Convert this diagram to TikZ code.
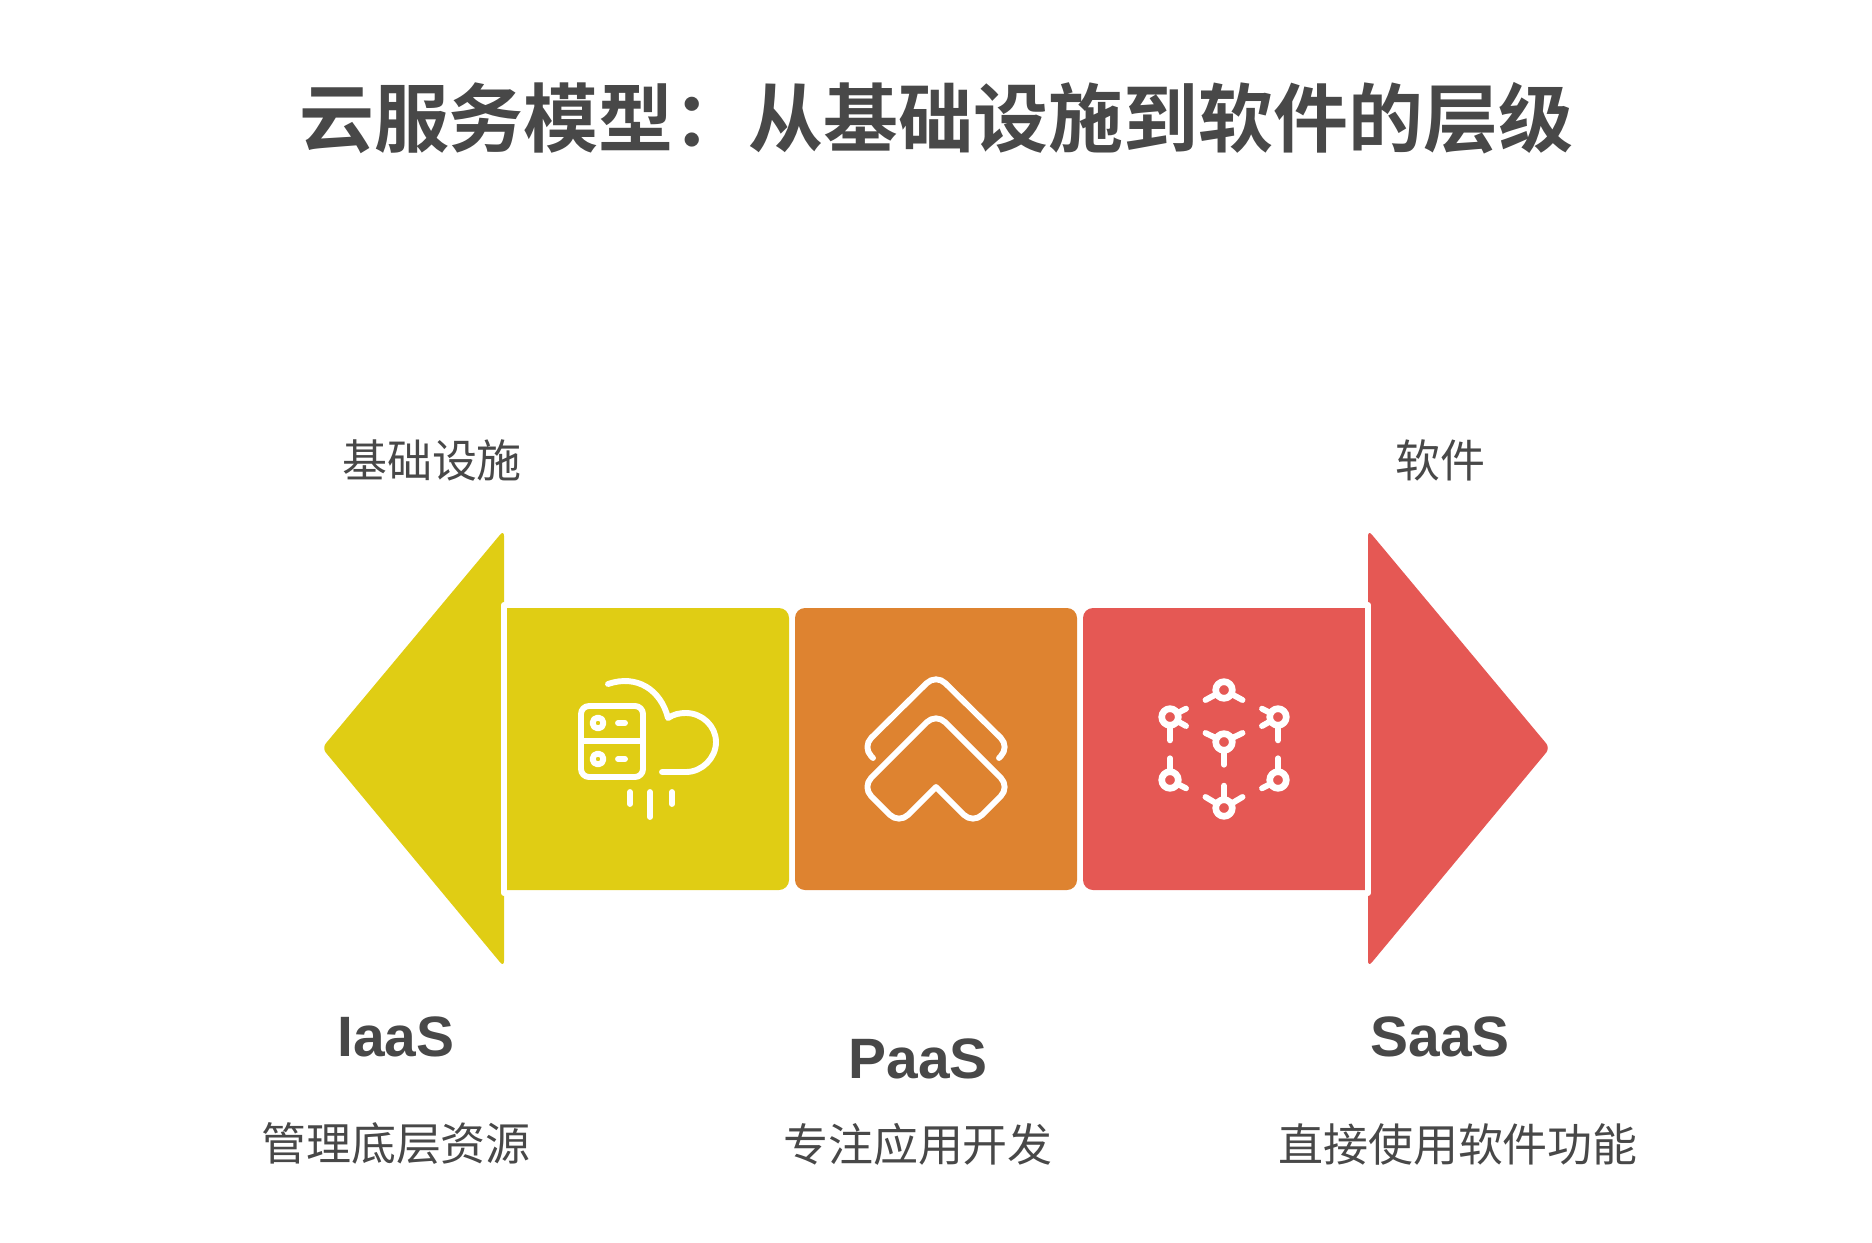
\documentclass[tikz,border=0pt]{standalone}
\usepackage{fontspec}
\usepackage{xcolor}
\setmainfont{Noto Sans CJK SC}[BoldFont={Noto Sans CJK SC Bold}]
\newfontfamily\latinfont{Liberation Sans}
\definecolor{iaasyellow}{HTML}{E0CD14}
\definecolor{paasorange}{HTML}{DE8330}
\definecolor{saasred}{HTML}{E55854}
\definecolor{textgray}{HTML}{484848}
\tikzset{
    titletext/.style={text=textgray, font=\fontsize{42.65}{50}\selectfont\bfseries, inner sep=0pt},
    bodytext/.style={text=textgray, font=\fontsize{25.6}{30}\selectfont, inner sep=0pt},
    headtext/.style={text=textgray, font=\fontsize{32.4}{38}\selectfont\latinfont\bfseries, inner sep=0pt},
    iconline/.style={draw=white, line width=0.118cm, line cap=round, line join=round}
}

\begin{document}
\begin{tikzpicture}[x=0.02cm, y=-0.02cm]
    \useasboundingbox (0, 0) rectangle (1872, 1243);

    % Title
    \node[titletext] (title) at (936, 118) {云服务模型：从基础设施到软件的层级};

    % Ends of the scale
    \node[bodytext] (infra) at (432, 460) {基础设施};
    \node[bodytext] (soft) at (1440, 460) {软件};

    % Left arrow head
    \fill[iaasyellow, rounded corners=0.12cm] (504, 530) -- (322, 748) -- (504, 967) -- cycle;
    \draw[white, line width=0.12cm, line cap=round] (504, 605) -- (504, 893);

    % Boxes
    \fill[iaasyellow] (507, 608) [rounded corners=0.2cm] -- (789, 608) -- (789, 890) [sharp corners] -- (507, 890) -- cycle;
    \fill[paasorange, rounded corners=0.2cm] (795, 608) rectangle (1077, 890);
    \fill[saasred] (1365, 890) [rounded corners=0.2cm] -- (1083, 890) -- (1083, 608) [sharp corners] -- (1365, 608) -- cycle;

    % Right arrow head
    \fill[saasred, rounded corners=0.12cm] (1368, 530) -- (1550, 748) -- (1368, 967) -- cycle;
    \draw[white, line width=0.12cm, line cap=round] (1368, 605) -- (1368, 893);

    % Server and cloud icon
    \draw[iconline, rounded corners=0.16cm] (581, 706) rectangle (643, 777);
    \draw[iconline] (581, 741) -- (643, 741);
    \foreach \y in {723, 759} {
        \draw[iconline] (598, \y) circle[radius=5.5];
        \draw[iconline] (618, \y) -- (625, \y);
    }
    \draw[iconline] (608, 684) .. controls (637, 674) and (661, 690) .. (668, 718)
        .. controls (674, 714) and (680, 713) .. (686, 713)
        .. controls (702, 713) and (716, 726) .. (716, 742)
        .. controls (716, 758) and (702, 772) .. (686, 772) -- (662, 772);
    \foreach \x/\yb in {630/804, 650/817, 672/804}
        \draw[iconline] (\x, 792) -- (\x, \yb);

    % Chevrons icon
    \draw[iconline, rounded corners=0.26cm] (873, 758) -- (862, 747) -- (936, 674) -- (1010, 747) -- (999, 758);
    \draw[iconline] (954.5, 805.5) [rounded corners=0.26cm] -- (973, 824) -- (1010, 787) -- (936, 713) -- (862, 787) -- (899, 824) -- (917.5, 805.5) [sharp corners] -- (936, 787) -- cycle;

    % Network icon
    \foreach \hx/\hy/\ex/\ey in {
        1224/690/-18.5/10, 1224/690/18.5/10,
        1224/742/-18.5/-9, 1224/742/18.5/-9, 1224/742/0/22.7,
        1224/808/-18.5/-11, 1224/808/18.5/-11, 1224/808/0/-22.3,
        1170/717/16/-8.3, 1170/717/16/9, 1170/717/0/23.3,
        1278/717/-16/-8.3, 1278/717/-16/9, 1278/717/0/23.3,
        1170/780/0/-21.7, 1170/780/16/8.3,
        1278/780/0/-21.7, 1278/780/-16/8.3}
        \draw[iconline] (\hx, \hy) -- ++(\ex, \ey);
    \foreach \hx/\hy in {1224/690, 1224/742, 1224/808, 1170/717, 1278/717, 1170/780, 1278/780}
        \draw[iconline, line width=0.134cm, fill=saasred] (\hx, \hy) circle[radius=8.3];

    % Labels
    \node[headtext] (iaas) at (396, 1037) {IaaS};
    \node[headtext] (paas) at (918, 1059) {PaaS};
    \node[headtext] (saas) at (1440, 1037) {SaaS};
    \node[bodytext] (iaasnote) at (396, 1144) {管理底层资源};
    \node[bodytext] (paasnote) at (918, 1144) {专注应用开发};
    \node[bodytext] (saasnote) at (1458, 1144) {直接使用软件功能};
\end{tikzpicture}
\end{document}
